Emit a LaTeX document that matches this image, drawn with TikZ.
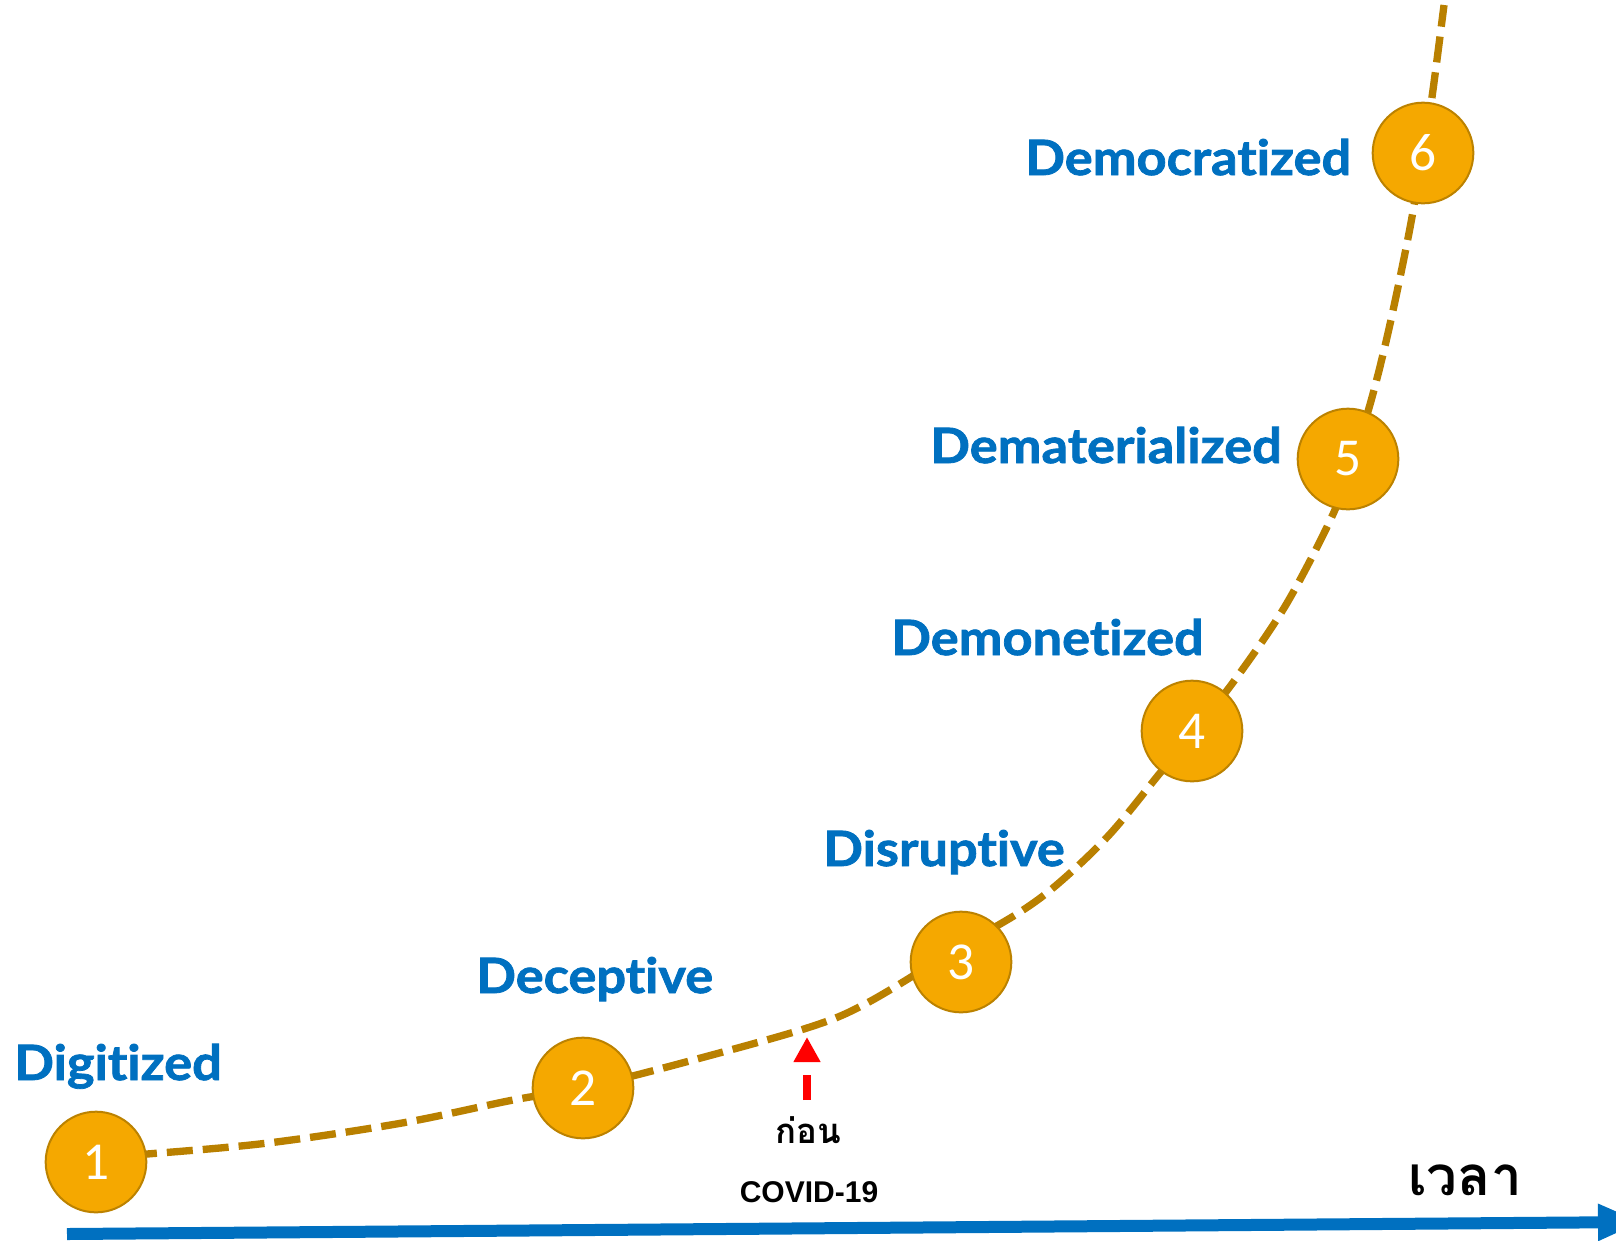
\documentclass[tikz,border=0pt]{standalone}
\usepackage{fontspec}
\usetikzlibrary{arrows.meta}
\newfontfamily\lblfont{Lato}[FakeStretch=1.075, Ligatures=NoCommon, BoldFeatures={FakeBold=1.6}]
\newfontfamily\numfont{Carlito}
\newfontfamily\covfont{Liberation Sans}
\newfontfamily\thaifont[Script=Thai]{Loma}
\definecolor{lblblue}{HTML}{0070C0}
\definecolor{discfill}{HTML}{F5A800}
\definecolor{discline}{HTML}{BC8200}
\definecolor{curvecol}{HTML}{B98000}
\tikzset{
  disc/.style={circle, fill=discfill, draw=discline, line width=1.5pt,
    minimum size=75.5pt, inner sep=0pt, text=white,
    font=\numfont\fontsize{40}{40}\selectfont},
  stage/.style={anchor=base west, inner sep=0pt, text=lblblue,
    font=\lblfont\bfseries\fontsize{36.5}{36.5}\selectfont},
  growth/.style={draw=curvecol, line width=5.5pt, dash pattern=on 19.5pt off 7.5pt},
  axisarrow/.style={draw=lblblue, line width=9pt, -{Triangle[length=33pt,width=25.5pt]}},
  markarrow/.style={draw=red, line width=6pt, dash pattern=on 18.75pt off 9.75pt,
    -{Triangle[length=18.75pt,width=19pt]}}
}
\begin{document}
\begin{tikzpicture}[x=0.75pt,y=-0.75pt]
\useasboundingbox (0,0) rectangle (1616,1240);
\clip (0,0) rectangle (1616,1240);
% growth curve
\draw[growth] plot[smooth, tension=0.55] coordinates {
 (95,1157) (147,1154) (268,1143) (402,1123) (513,1100) (583,1088)
 (682,1063) (807,1028) (867,1003) (955,950) (1020,912) (1060,882)
 (1110,834) (1160,773) (1194,732) (1237,677) (1287,603) (1334,512)
 (1351,460) (1369,408) (1388,333) (1409,233) (1423,152) (1432,97) (1444,5)};
% discs
\node[disc] (d1) at (96,1162) {1};
\node[disc] (d2) at (583,1088) {2};
\node[disc] (d3) at (961,962) {3};
\node[disc] (d4) at (1192,731) {4};
\node[disc] (d5) at (1348,459) {5};
\node[disc] (d6) at (1423,153) {6};
% stage labels
\node[stage] (l1) at (14,1080) {Digitized};
\node[stage] (l2) at (476,993) {Deceptive};
\node[stage] (l3) at (823,866) {Disruptive};
\node[stage] (l4) at (891,655) {Demonetized};
\node[stage] (l5) at (930,463) {Dematerialized};
\node[stage] (l6) at (1025,175) {Democratized};
% covid marker
\coordinate (mkS) at (807,1100);
\coordinate (mkE) at (807,1037);
\draw[markarrow] (mkS) -- (mkE);
\node[anchor=base, inner sep=0pt, font=\thaifont\bfseries\fontsize{26}{26}\selectfont] (before) at (808,1143) {ก่อน};
\node[anchor=base, inner sep=0pt, font=\covfont\bfseries\fontsize{22.5}{22.5}\selectfont] (covid) at (809,1202) {COVID-19};
% time axis
\coordinate (ax0) at (67,1234);
\coordinate (ax1) at (1642,1222);
\draw[axisarrow] (ax0) -- (ax1);
\node[anchor=base, inner sep=0pt, font=\thaifont\bfseries\fontsize{41}{41}\selectfont] (time) at (1465,1195) {เวลา};
\end{tikzpicture}
\end{document}
